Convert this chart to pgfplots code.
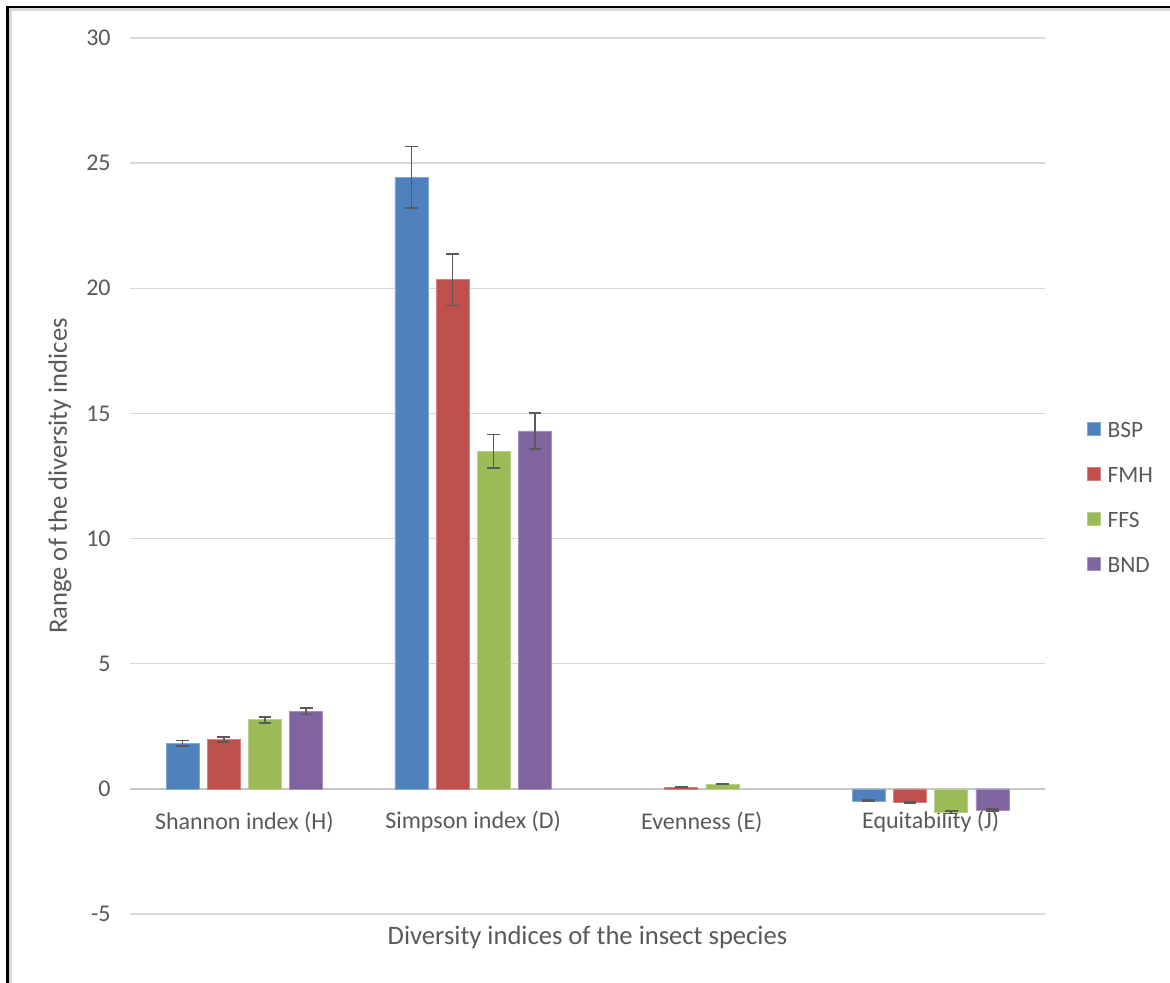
\documentclass[border=0pt]{standalone}
\usepackage{fontspec}
\setmainfont{Carlito}
\usepackage{pgfplots}
\usepackage{pgfplotstable}
\pgfplotsset{compat=1.18}

\definecolor{cBSP}{HTML}{4F81BD}
\definecolor{cFMH}{HTML}{C0504D}
\definecolor{cFFS}{HTML}{9BBB59}
\definecolor{cBND}{HTML}{8064A2}
\definecolor{txt}{HTML}{595959}
\definecolor{grid}{HTML}{D9D9D9}
\definecolor{errc}{HTML}{5A5A5A}

% index, mean and error of each site
\pgfplotstableread{
x BSP BSPe FMH FMHe FFS FFSe BND BNDe
0 1.83 0.11 1.98 0.10 2.76 0.12 3.10 0.13
1 24.44 1.23 20.34 1.02 13.48 0.67 14.30 0.72
2 nan 0.00 0.07 0.01 0.19 0.02 nan 0.00
3 -0.48 0.03 -0.53 0.03 -0.93 0.05 -0.85 0.04
}\divdata

\pgfplotsset{
  mybar/.style={fill=#1, draw=#1!70!white, line width=0.3pt,
    legend image code/.code={\fill[##1] (0pt,-3pt) rectangle (6.5pt,3.5pt);},
    error bars/.cd, y dir=both, y explicit,
    error bar style={errc, line width=0.75pt},
    error mark options={errc, line width=0.75pt, mark size=3.2pt, rotate=90}},
}

\begin{document}
\begin{tikzpicture}
\useasboundingbox (-65pt,-34.5pt) rectangle (520pt,457pt);
\draw[black!15, line width=1.2pt] (-59.75pt,-40pt) -- (-59.75pt,452.15pt) -- (530pt,452.15pt);
\draw[black, line width=1.25pt] (-61.15pt,-40pt) -- (-61.15pt,453.4pt) -- (530pt,453.4pt);
\begin{axis}[
  scale only axis,
  width=457.5pt, height=438pt,
  xmin=-0.5, xmax=3.5,
  ymin=-5, ymax=30,
  ytick={-5,0,5,10,15,20,25,30},
  yticklabels={-5,0,5,10,15,20,25,30},
  xtick={0,1,2,3},
  xticklabels={Shannon index (H),Simpson index (D),Evenness (E),Equitability (J)},
  ymajorgrids,
  grid style={draw=grid, line width=0.75pt},
  extra y ticks={0},
  extra y tick labels={},
  extra y tick style={grid style={draw=black!22, line width=0.9pt}},
  axis line style={draw=none},
  major tick length=0pt,
  ybar=4.1pt, bar width=16.5pt,
  tick label style={font=\fontsize{12}{14}\selectfont, text=txt},
  yticklabel style={anchor=east, inner sep=0pt, xshift=-9.5pt},
  xticklabel style={anchor=center, yshift=46pt},
  xlabel={Diversity indices of the insect species},
  ylabel={Range of the diversity indices},
  label style={font=\fontsize{13.3}{15}\selectfont, text=txt},
  xlabel style={at={(axis description cs:0.5,-0.0263)}, anchor=center},
  ylabel style={at={(axis description cs:-0.0765,0.5)}, anchor=center},
  legend style={at={(axis description cs:1.0459,0.5621)}, anchor=north west,
    draw=none, fill=none, inner sep=0pt, outer sep=0pt,
    font=\fontsize{11.7}{13}\selectfont, text=txt,
    nodes={inner sep=0pt, text height=8.2pt, text depth=0pt},
    row sep=14.2pt,
    /tikz/every odd column/.append style={column sep=3.5pt}},
  legend cell align=left,
]
\addplot[mybar=cBSP] table[x=x, y=BSP, y error=BSPe] {\divdata};
\addlegendentry{BSP}
\addplot[mybar=cFMH] table[x=x, y=FMH, y error=FMHe] {\divdata};
\addlegendentry{FMH}
\addplot[mybar=cFFS] table[x=x, y=FFS, y error=FFSe] {\divdata};
\addlegendentry{FFS}
\addplot[mybar=cBND] table[x=x, y=BND, y error=BNDe] {\divdata};
\addlegendentry{BND}
\end{axis}
\end{tikzpicture}
\end{document}
